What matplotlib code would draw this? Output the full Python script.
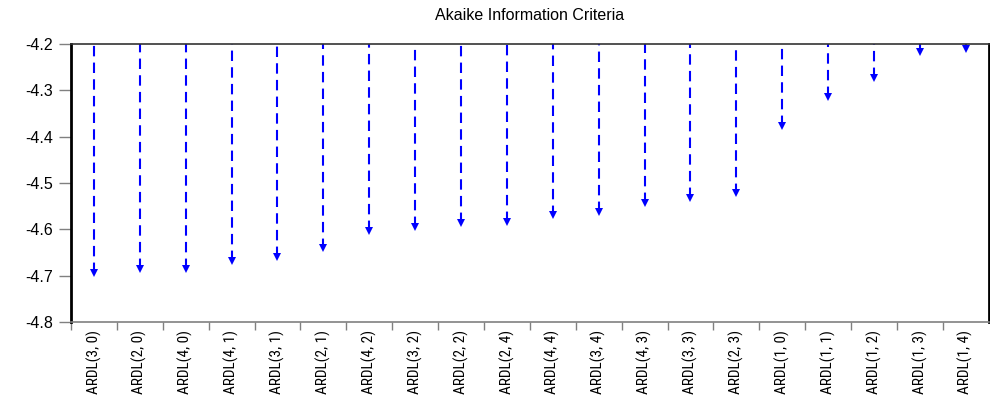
import matplotlib
matplotlib.use("Agg")
import matplotlib.pyplot as plt
import numpy as np
from matplotlib import font_manager

models = ["ARDL(3, 0)", "ARDL(2, 0)", "ARDL(4, 0)", "ARDL(4, 1)", "ARDL(3, 1)",
          "ARDL(2, 1)", "ARDL(4, 2)", "ARDL(3, 2)", "ARDL(2, 2)", "ARDL(2, 4)",
          "ARDL(4, 4)", "ARDL(3, 4)", "ARDL(4, 3)", "ARDL(3, 3)", "ARDL(2, 3)",
          "ARDL(1, 0)", "ARDL(1, 1)", "ARDL(1, 2)", "ARDL(1, 3)", "ARDL(1, 4)"]
aic = [-4.699, -4.690, -4.690, -4.673, -4.664,
       -4.646, -4.608, -4.600, -4.591, -4.589,
       -4.575, -4.567, -4.548, -4.537, -4.527,
       -4.381, -4.319, -4.278, -4.222, -4.215]
yticks = [-4.8, -4.7, -4.6, -4.5, -4.4, -4.3, -4.2]

names = {f.name for f in font_manager.fontManager.ttflist}
narrow = None
for cand in ["Liberation Sans Narrow", "Roboto Condensed", "DejaVu Sans Condensed",
             "Open Sans Condensed", "Noto Sans Condensed"]:
    if cand in names:
        narrow = cand
        break
if narrow is None:
    narrow = "Roboto"

fig = plt.figure(figsize=(9.9, 4.0), dpi=100)
ax = fig.add_axes([0.0717, 0.195, 0.927, 0.695])

x = np.arange(len(models))
top = -4.2
ax.vlines(x, np.array(aic) + 0.004, top, colors="#0000ff", linestyles=(0, (5, 3)), linewidth=1.5)
ax.plot(x, np.array(aic) + 0.005, linestyle="none", marker="v", markersize=5.5,
        color="#0000ff", markeredgewidth=0)

ax.set_xlim(-0.5, len(models) - 0.5)
ax.set_ylim(-4.8, -4.2)
ax.set_yticks(yticks)
ax.set_yticklabels([f"{v:.1f}" for v in yticks], fontfamily="Liberation Sans", fontsize=11.5)
ax.set_xticks(x - 0.5, minor=False)
ax.set_xticklabels([])
ax.set_xticks(x, minor=True)
ax.set_xticklabels(models, minor=True, rotation=90, fontfamily=narrow, fontsize=11,
                   fontstretch="condensed")
ax.tick_params(axis="x", which="major", direction="out", length=6, color="#808080", width=1)
ax.tick_params(axis="x", which="minor", length=0, pad=6)
ax.tick_params(axis="y", direction="out", length=9, color="#808080", width=1, pad=4)

ax.spines["left"].set_linewidth(2)
ax.spines["left"].set_color("black")
ax.spines["right"].set_linewidth(2)
ax.spines["right"].set_color("black")
ax.spines["top"].set_linewidth(1.2)
ax.spines["top"].set_color("#333333")
ax.spines["bottom"].set_linewidth(1.2)
ax.spines["bottom"].set_color("#808080")

fig.text(0.535, 0.962, "Akaike Information Criteria", ha="center", va="center",
         fontfamily="Liberation Sans", fontsize=11.5)

fig.savefig("out.png", dpi=100)
